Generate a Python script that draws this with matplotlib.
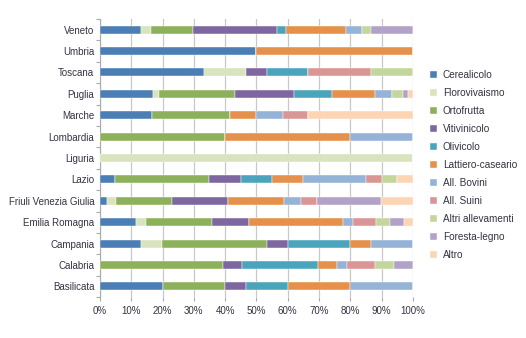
import numpy as np
import matplotlib
matplotlib.use("Agg")
import matplotlib.pyplot as plt

plt.rcParams['font.family'] = ['Liberation Sans', 'DejaVu Sans']

regioni = ["Veneto", "Umbria", "Toscana", "Puglia", "Marche", "Lombardia", "Liguria",
           "Lazio", "Friuli Venezia Giulia", "Emilia Romagna", "Campania", "Calabria", "Basilicata"]

cerealicolo = [13.1, 50, 33.3, 17.1, 16.5, 0, 0, 4.8, 2.3, 11.6, 13.2, 0, 20]
florovivaismo = [3.1, 0, 13.3, 1.9, 0, 0, 100, 0, 2.7, 3.2, 6.7, 0, 0]
ortofrutta = [13.4, 0, 0, 24.2, 25.2, 40, 0, 30.2, 18.0, 21.0, 33.5, 39.4, 20]
vitivinicolo = [27.1, 0, 6.7, 18.9, 0, 0, 0, 10.1, 17.8, 11.9, 6.6, 6.0, 6.6]
olivicolo = [2.8, 0, 13.3, 12.0, 0, 0, 0, 9.9, 0, 0, 20.0, 24.4, 13.4]
lattiero = [19.0, 50, 0, 13.9, 8.1, 40, 0, 10.0, 18.1, 29.9, 6.6, 6.0, 20]
bovini = [5.3, 0, 0, 5.2, 8.6, 20, 0, 20.0, 5.2, 3.1, 13.3, 3.1, 20]
suini = [0, 0, 20.0, 0, 8.2, 0, 0, 5.0, 5.2, 7.5, 0, 9.1, 0]
altri_allev = [2.9, 0, 13.3, 3.5, 0, 0, 0, 4.9, 0, 4.6, 0, 6.1, 0]
foresta = [13.3, 0, 0, 1.7, 0, 0, 0, 0, 20.5, 4.4, 0, 6.0, 0]
altro = [0, 0, 0, 1.6, 33.4, 0, 0, 5.0, 10.1, 2.9, 0, 0, 0]

serie = [
    ("Cerealicolo", cerealicolo, "#4a7eb5"),
    ("Florovivaismo", florovivaismo, "#d7e4bd"),
    ("Ortofrutta", ortofrutta, "#8db15b"),
    ("Vitivinicolo", vitivinicolo, "#7e67a0"),
    ("Olivicolo", olivicolo, "#4aa5bc"),
    ("Lattiero-caseario", lattiero, "#e6914b"),
    ("All. Bovini", bovini, "#95b3d7"),
    ("All. Suini", suini, "#d99694"),
    ("Altri allevamenti", altri_allev, "#c3d69b"),
    ("Foresta-legno", foresta, "#b2a2c7"),
    ("Altro", altro, "#fcd5b5"),
]

fig = plt.figure(figsize=(5.26, 3.38), dpi=100)
ax = fig.add_axes([0.19, 0.121, 0.595, 0.823])

y = np.arange(len(regioni))
left = np.zeros(len(regioni))
for nome, vals, col in serie:
    vals = np.array(vals, dtype=float)
    ax.barh(y, vals, left=left, height=0.38, color=col, label=nome,
            edgecolor="white", linewidth=0.3, zorder=3)
    left += vals

ax.set_xlim(0, 100)
ax.set_ylim(len(regioni) - 0.5, -0.5)
ax.set_xticks(np.arange(0, 101, 10))
ax.set_xticklabels([f"{v}%" for v in range(0, 101, 10)])
ax.set_yticks(y)
ax.set_yticklabels(regioni)
ax.set_yticks(np.arange(-0.5, len(regioni), 1), minor=True)
ax.tick_params(axis='y', which='major', length=0, labelsize=7, colors="#333344", pad=4)
ax.tick_params(axis='y', which='minor', length=3, color="#aaaaaa", width=0.8)
ax.tick_params(axis='x', length=3, color="#aaaaaa", labelsize=7, colors="#333344")
ax.xaxis.grid(True, color="#c8c8c8", linewidth=0.9, zorder=0)
for s in ["top", "right", "bottom"]:
    ax.spines[s].set_visible(False)
ax.spines["left"].set_color("#aaaaaa")

fig.legend(loc="upper left", bbox_to_anchor=(0.80, 0.82), frameon=False,
           fontsize=7.2, handlelength=0.7, handleheight=0.7, handletextpad=0.6,
           labelspacing=0.8, labelcolor="#333344")

fig.savefig("out.png", dpi=100)
